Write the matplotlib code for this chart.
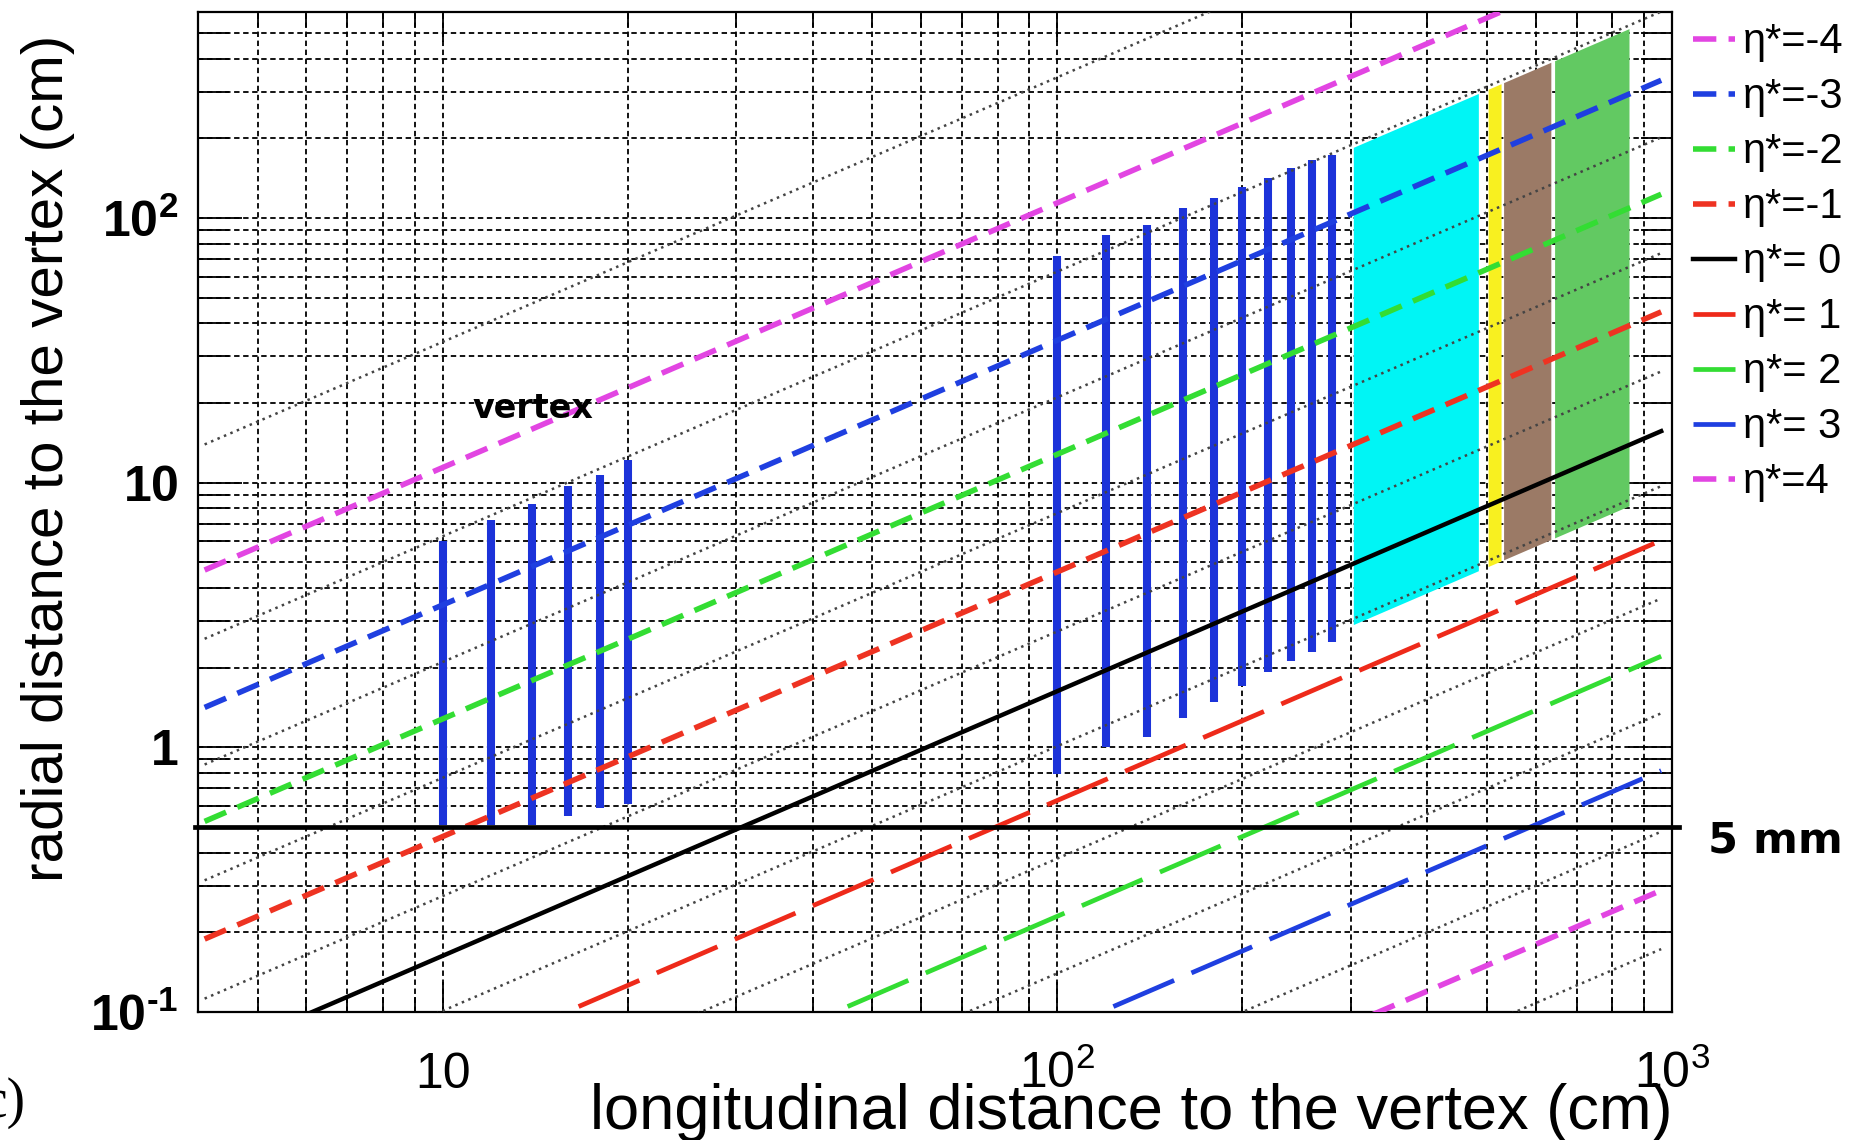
import numpy as np
import matplotlib.pyplot as plt
from matplotlib.ticker import FixedLocator, FixedFormatter, LogLocator, NullFormatter

plt.rcParams['font.family'] = ['Liberation Sans', 'DejaVu Sans']
plt.rcParams['mathtext.fontset'] = 'custom'
plt.rcParams['mathtext.rm'] = 'Liberation Sans'
plt.rcParams['mathtext.bf'] = 'Liberation Sans:bold'
plt.rcParams['mathtext.it'] = 'Liberation Sans:italic'

# eta* lines, r = slope * z
eta_labels = ['η*=-4', 'η*=-3', 'η*=-2', 'η*=-1', 'η*= 0', 'η*= 1', 'η*= 2', 'η*= 3', 'η*=4']
eta_slope = [1.14, 0.345, 0.128, 0.046, 0.0163, 0.0063, 0.0023, 0.00085, 0.0003]
eta_colors = ['#e245e2', '#1f3fe0', '#33dd33', '#ee3322', 'black',
              '#ee2a1a', '#33dd33', '#1f3fe0', '#e245e2']
eta_dash = ['short', 'short', 'short', 'short', 'solid', 'long', 'long', 'long', 'short']
z_line = [4.1, 960]

# thin dotted lines in between
dotted_slope = [3.4, 0.627, 0.21, 0.0767, 0.0274, 0.0101, 0.0038, 0.0014, 0.0005, 0.00018]

# silicon layers (vertical bars)
bar_z_1 = [10, 12, 14, 16, 18, 20]
bar_top_1 = [6.0, 7.2, 8.3, 9.7, 10.7, 12.2]
bar_bot_1 = [0.51, 0.51, 0.51, 0.55, 0.59, 0.61]
bar_z_2 = [100, 120, 140, 160, 180, 200, 220, 240, 260, 280]
bar_top_2 = [72, 86, 94, 109, 119, 131, 141, 154, 165, 173]
bar_bot_2 = [0.79, 1.0, 1.09, 1.29, 1.48, 1.71, 1.92, 2.12, 2.30, 2.51]

# detector regions
reg_zmin = [303, 502, 532, 644]
reg_zmax = [484, 527, 635, 851]
reg_colors = ['#00f5f5', '#f8f020', '#9b7a66', '#62c962']
reg_top_slope = 0.61
reg_bot_slope = 0.0096

five_mm = 0.5

fig = plt.figure(figsize=(18.56, 11.40), dpi=100)
ax = fig.add_axes([0.1067, 0.1123, 0.7942, 0.8772])
ax.set_xscale('log')
ax.set_yscale('log')
ax.set_xlim(4, 1000)
ax.set_ylim(0.1, 600)

ax.set_axisbelow(True)
ax.grid(True, which='both', color='black', linestyle=(0, (3, 2)), linewidth=1.3)

zz = np.array(z_line)
for zmin, zmax, c in zip(reg_zmin, reg_zmax, reg_colors):
    z = np.array([zmin, zmax])
    ax.fill_between(z, reg_bot_slope * z, reg_top_slope * z, color=c, lw=0, zorder=1)

for k in dotted_slope:
    ax.plot(zz, k * zz, color='#444444', ls=(0, (1, 1.8)), lw=1.8, zorder=2.6)

ax.vlines(bar_z_1, bar_bot_1, bar_top_1, colors='#1c33d9', lw=5.8, zorder=2.4)
ax.vlines(bar_z_2, bar_bot_2, bar_top_2, colors='#1c33d9', lw=5.8, zorder=2.4)

handles = []
for lab, k, c, d in zip(eta_labels, eta_slope, eta_colors, eta_dash):
    if d == 'solid':
        h, = ax.plot(zz, k * zz, color=c, lw=3.2, zorder=3, label=lab)
    elif d == 'long':
        h, = ax.plot(zz, k * zz, color=c, lw=3.4, ls=(0, (14, 4)), zorder=3, label=lab)
    else:
        h, = ax.plot(zz, k * zz, color=c, lw=4.0, ls=(0, (4.2, 2.2)), zorder=3, label=lab)
    handles.append(h)

ax.axhline(five_mm, xmin=-0.002, xmax=1.005, color='black', lw=3.4, zorder=4, clip_on=False)

ax.text(14.0, 19.0, 'vertex', family='DejaVu Sans', fontweight='bold', fontsize=24,
        ha='center', va='center', zorder=5)
ax.annotate('5 mm', xy=(1.0245, five_mm), xycoords=ax.get_yaxis_transform(),
            xytext=(0, -9.5), textcoords='offset points', family='DejaVu Sans',
            fontweight='bold', fontsize=31, ha='left', va='center')

# axes, ticks
for s in ax.spines.values():
    s.set_linewidth(1.6)
ax.xaxis.set_major_locator(FixedLocator([10, 100, 1000]))
ax.xaxis.set_major_formatter(FixedFormatter(['10', r'$10^{2}$', r'$10^{3}$']))
ax.xaxis.set_minor_locator(LogLocator(base=10, subs=np.arange(2, 10), numticks=20))
ax.xaxis.set_minor_formatter(NullFormatter())
ax.yaxis.set_major_locator(FixedLocator([0.1, 1, 10, 100]))
ax.yaxis.set_major_formatter(FixedFormatter([r'$\mathbf{10^{‐1}}$', r'$\mathbf{1}$',
                                             r'$\mathbf{10}$', r'$\mathbf{10^{2}}$']))
ax.yaxis.set_minor_locator(LogLocator(base=10, subs=np.arange(2, 10), numticks=20))
ax.yaxis.set_minor_formatter(NullFormatter())

ax.tick_params(which='both', direction='in', top=True, right=True, width=1.3)
ax.tick_params(axis='x', which='major', length=21.6, labelsize=36, pad=55)
ax.tick_params(axis='x', which='minor', length=10.8)
ax.tick_params(axis='y', which='major', length=31.7, labelsize=36, pad=14)
ax.tick_params(axis='y', which='minor', length=22)
for t in ax.xaxis.get_major_ticks():
    t.label1.set_va('baseline')

ax.text(1.0, -0.101, 'longitudinal distance to the vertex (cm)', fontsize=45.5,
        ha='right', va='center', transform=ax.transAxes)
ax.text(-0.1018, 0.554, 'radial distance to the vertex (cm)', fontsize=42,
        rotation=90, ha='center', va='center', transform=ax.transAxes)
fig.text(-0.009, 0.0325, 'c)', family='Liberation Serif', fontsize=40, ha='left', va='center')

fig.legend(handles=handles, loc='upper left', bbox_to_anchor=(0.903, 0.995),
           frameon=False, fontsize=30, handlelength=1.02, handletextpad=0.18,
           labelspacing=0.36, borderaxespad=0)

fig.savefig('out.png', dpi=100)
